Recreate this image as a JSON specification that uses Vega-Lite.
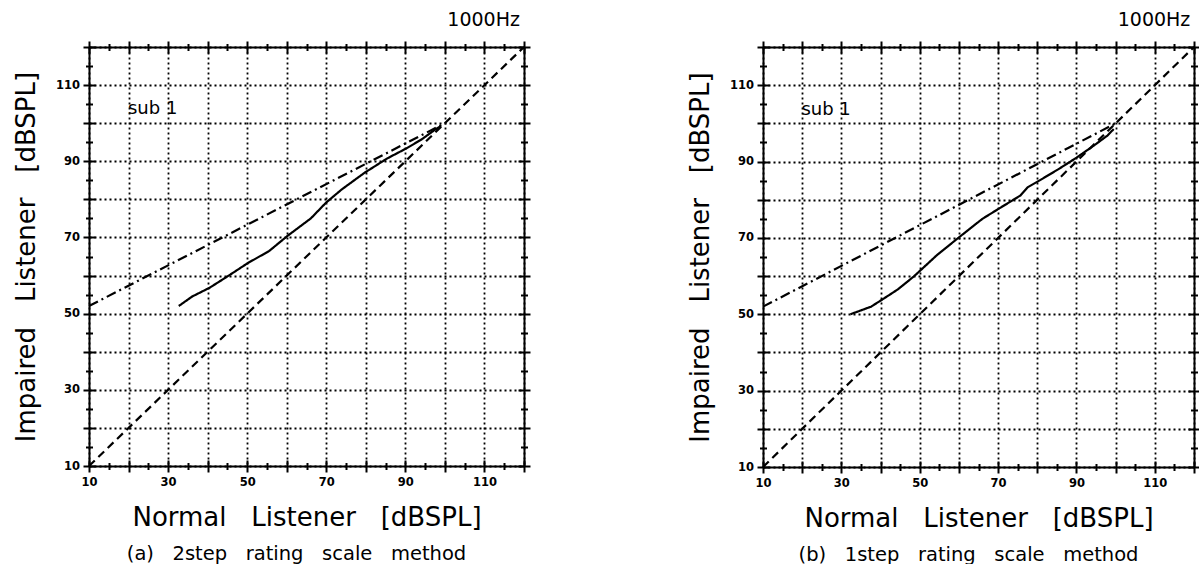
{
"$schema": "https://vega.github.io/schema/vega-lite/v6.json",
"padding": {"left": 13, "top": 11, "right": 0, "bottom": 0},
"spacing": 156,
"background": "white",
"config": {
  "view": {"stroke": null},
  "axis": {
    "domainColor": "black", "domainWidth": 2,
    "tickColor": "black", "tickWidth": 2,
    "labelFlush": false, "labelOverlap": false, "labelBound": false,
    "labelFont": "DejaVu Sans", "labelFontWeight": "bold", "labelFontSize": 11.5, "labelColor": "black",
    "gridColor": "black", "gridDash": [2, 3], "gridWidth": 1.8,
    "titleFont": "DejaVu Sans", "titleFontSize": 26, "titleFontWeight": "normal", "titleColor": "black"
  }
},
"datasets": {
  "a": [
    {"s": "dash", "x": 10, "y": 10}, {"s": "dash", "x": 120, "y": 120},
    {"s": "dashdot", "x": 10, "y": 52}, {"s": "dashdot", "x": 100, "y": 100},
    {"s": "solid", "x": 32.7, "y": 52}, {"s": "solid", "x": 36.1, "y": 54.5}, {"s": "solid", "x": 40.5, "y": 56.8},
    {"s": "solid", "x": 45.8, "y": 60.3}, {"s": "solid", "x": 50.2, "y": 63.3}, {"s": "solid", "x": 55.5, "y": 66.4},
    {"s": "solid", "x": 60.3, "y": 70.5}, {"s": "solid", "x": 66.1, "y": 75}, {"s": "solid", "x": 70, "y": 79.2},
    {"s": "solid", "x": 73.9, "y": 82.6}, {"s": "solid", "x": 79.7, "y": 87}, {"s": "solid", "x": 85.5, "y": 90.8},
    {"s": "solid", "x": 90.3, "y": 93.4}, {"s": "solid", "x": 94.2, "y": 95.8}, {"s": "solid", "x": 97.1, "y": 98},
    {"s": "solid", "x": 99, "y": 99.3}
  ],
  "b": [
    {"s": "dash", "x": 10, "y": 10}, {"s": "dash", "x": 120, "y": 120},
    {"s": "dashdot", "x": 10, "y": 52}, {"s": "dashdot", "x": 100, "y": 100},
    {"s": "solid", "x": 32.3, "y": 50}, {"s": "solid", "x": 37.6, "y": 52}, {"s": "solid", "x": 40.5, "y": 53.9},
    {"s": "solid", "x": 44.4, "y": 56.5}, {"s": "solid", "x": 48.6, "y": 60}, {"s": "solid", "x": 54.4, "y": 65.5},
    {"s": "solid", "x": 60.2, "y": 70.3}, {"s": "solid", "x": 66, "y": 75}, {"s": "solid", "x": 70.9, "y": 78.1},
    {"s": "solid", "x": 75.7, "y": 81.1}, {"s": "solid", "x": 77.6, "y": 83.3}, {"s": "solid", "x": 80.5, "y": 85},
    {"s": "solid", "x": 85.4, "y": 88}, {"s": "solid", "x": 90, "y": 91}, {"s": "solid", "x": 95, "y": 94.6},
    {"s": "solid", "x": 97.9, "y": 96.8}, {"s": "solid", "x": 99.5, "y": 98.5}
  ],
  "sub": [{"x": 26.1, "y": 103.6, "label": "sub 1"}],
  "hz": [{"x": 109.8, "y": 127, "label": "1000Hz"}]
},
"hconcat": [
{
  "width": 435, "height": 419,
  "title": {"text": "(a)\u00a0\u00a0\u00a02step\u00a0\u00a0\u00a0rating\u00a0\u00a0\u00a0scale\u00a0\u00a0\u00a0method", "orient": "bottom", "anchor": "middle", "font": "DejaVu Sans", "fontSize": 19.5, "fontWeight": "normal", "color": "black", "offset": 14, "dx": -10},
  "layer": [
    {"data": {"name": "a"}, "mark": {"type": "line", "color": "black", "strokeWidth": 2.2},
     "encoding": {
       "x": {"field": "x", "type": "quantitative", "scale": {"domain": [10, 120], "nice": false, "zero": false},
             "axis": {"orient": "bottom", "values": [10,15,20,25,30,35,40,45,50,55,60,65,70,75,80,85,90,95,100,105,110,115,120],
                      "labelExpr": "datum.value % 20 === 10 ? datum.label : ''",
                      "tickSize": {"condition": {"test": "datum.value % 10 === 0", "value": 6}, "value": 3.5},
                      "grid": true, "gridOpacity": {"condition": {"test": "datum.value % 10 === 0", "value": 1}, "value": 0},
                      "labelPadding": 4, "title": "Normal\u00a0\u00a0\u00a0Listener\u00a0\u00a0\u00a0[dBSPL]", "titlePadding": 17}},
       "y": {"field": "y", "type": "quantitative", "scale": {"domain": [10, 120], "nice": false, "zero": false},
             "axis": {"orient": "left", "values": [10,15,20,25,30,35,40,45,50,55,60,65,70,75,80,85,90,95,100,105,110,115,120],
                      "labelExpr": "datum.value % 20 === 10 ? datum.label : ''",
                      "tickSize": {"condition": {"test": "datum.value % 10 === 0", "value": 6}, "value": 3.5},
                      "grid": true, "gridOpacity": {"condition": {"test": "datum.value % 10 === 0", "value": 1}, "value": 0},
                      "labelPadding": 3.5, "title": "Impaired\u00a0\u00a0\u00a0Listener\u00a0\u00a0\u00a0[dBSPL]", "titlePadding": 16}},
       "strokeDash": {"field": "s", "type": "nominal", "scale": {"domain": ["dash", "dashdot", "solid"], "range": [[8, 5], [10, 4, 2, 4], [1, 0]]}, "legend": null}
     }},
    {"data": {"name": "a"}, "mark": {"type": "point", "opacity": 0},
     "encoding": {
       "x": {"field": "x", "type": "quantitative", "scale": {"domain": [10, 120], "nice": false, "zero": false},
             "axis": {"orient": "top", "values": [10,15,20,25,30,35,40,45,50,55,60,65,70,75,80,85,90,95,100,105,110,115,120], "labels": false, "grid": false, "title": null,
                      "tickSize": {"condition": {"test": "datum.value % 10 === 0", "value": 6}, "value": 3.5}}},
       "y": {"field": "y", "type": "quantitative", "scale": {"domain": [10, 120], "nice": false, "zero": false},
             "axis": {"orient": "right", "values": [10,15,20,25,30,35,40,45,50,55,60,65,70,75,80,85,90,95,100,105,110,115,120], "labels": false, "grid": false, "title": null,
                      "tickSize": {"condition": {"test": "datum.value % 10 === 0", "value": 6}, "value": 3.5}}}
     }},
    {"data": {"name": "a"}, "mark": {"type": "point", "opacity": 0},
     "encoding": {
       "x": {"field": "x", "type": "quantitative", "scale": {"domain": [10, 120], "nice": false, "zero": false},
             "axis": {"orient": "bottom", "values": [10,15,20,25,30,35,40,45,50,55,60,65,70,75,80,85,90,95,100,105,110,115,120], "labels": false, "grid": false, "title": null, "domain": false,
                      "tickSize": {"condition": {"test": "datum.value % 10 === 0", "value": -6}, "value": -3.5}}},
       "y": {"field": "y", "type": "quantitative", "scale": {"domain": [10, 120], "nice": false, "zero": false},
             "axis": {"orient": "left", "values": [10,15,20,25,30,35,40,45,50,55,60,65,70,75,80,85,90,95,100,105,110,115,120], "labels": false, "grid": false, "title": null, "domain": false,
                      "tickSize": {"condition": {"test": "datum.value % 10 === 0", "value": -6}, "value": -3.5}}}
     }},
    {"data": {"name": "a"}, "mark": {"type": "point", "opacity": 0},
     "encoding": {
       "x": {"field": "x", "type": "quantitative", "scale": {"domain": [10, 120], "nice": false, "zero": false},
             "axis": {"orient": "top", "values": [10,15,20,25,30,35,40,45,50,55,60,65,70,75,80,85,90,95,100,105,110,115,120], "labels": false, "grid": false, "title": null, "domain": false,
                      "tickSize": {"condition": {"test": "datum.value % 10 === 0", "value": -6}, "value": -3.5}}},
       "y": {"field": "y", "type": "quantitative", "scale": {"domain": [10, 120], "nice": false, "zero": false},
             "axis": {"orient": "right", "values": [10,15,20,25,30,35,40,45,50,55,60,65,70,75,80,85,90,95,100,105,110,115,120], "labels": false, "grid": false, "title": null, "domain": false,
                      "tickSize": {"condition": {"test": "datum.value % 10 === 0", "value": -6}, "value": -3.5}}}
     }},
    {"data": {"name": "sub"}, "mark": {"type": "text", "font": "DejaVu Sans", "fontSize": 18, "color": "black", "align": "center", "baseline": "middle"},
     "encoding": {
       "x": {"field": "x", "type": "quantitative", "scale": {"domain": [10, 120], "nice": false, "zero": false}, "axis": null},
       "y": {"field": "y", "type": "quantitative", "scale": {"domain": [10, 120], "nice": false, "zero": false}, "axis": null},
       "text": {"field": "label"}
     }},
    {"data": {"name": "hz"}, "mark": {"type": "text", "font": "DejaVu Sans", "fontSize": 19, "color": "black", "align": "center", "baseline": "middle"},
     "encoding": {
       "x": {"field": "x", "type": "quantitative", "scale": {"domain": [10, 120], "nice": false, "zero": false}, "axis": null},
       "y": {"field": "y", "type": "quantitative", "scale": {"domain": [10, 120], "nice": false, "zero": false}, "axis": null},
       "text": {"field": "label"}
     }}
  ],
  "resolve": {"axis": {"x": "independent", "y": "independent"}}
},
{
  "width": 431, "height": 420,
  "title": {"text": "(b)\u00a0\u00a0\u00a01step\u00a0\u00a0\u00a0rating\u00a0\u00a0\u00a0scale\u00a0\u00a0\u00a0method", "orient": "bottom", "anchor": "middle", "font": "DejaVu Sans", "fontSize": 19.5, "fontWeight": "normal", "color": "black", "offset": 14, "dx": -10},
  "layer": [
    {"data": {"name": "b"}, "mark": {"type": "line", "color": "black", "strokeWidth": 2.2},
     "encoding": {
       "x": {"field": "x", "type": "quantitative", "scale": {"domain": [10, 120], "nice": false, "zero": false},
             "axis": {"orient": "bottom", "values": [10,15,20,25,30,35,40,45,50,55,60,65,70,75,80,85,90,95,100,105,110,115,120],
                      "labelExpr": "datum.value % 20 === 10 ? datum.label : ''",
                      "tickSize": {"condition": {"test": "datum.value % 10 === 0", "value": 6}, "value": 3.5},
                      "grid": true, "gridOpacity": {"condition": {"test": "datum.value % 10 === 0", "value": 1}, "value": 0},
                      "labelPadding": 4, "title": "Normal\u00a0\u00a0\u00a0Listener\u00a0\u00a0\u00a0[dBSPL]", "titlePadding": 17}},
       "y": {"field": "y", "type": "quantitative", "scale": {"domain": [10, 120], "nice": false, "zero": false},
             "axis": {"orient": "left", "values": [10,15,20,25,30,35,40,45,50,55,60,65,70,75,80,85,90,95,100,105,110,115,120],
                      "labelExpr": "datum.value % 20 === 10 ? datum.label : ''",
                      "tickSize": {"condition": {"test": "datum.value % 10 === 0", "value": 6}, "value": 3.5},
                      "grid": true, "gridOpacity": {"condition": {"test": "datum.value % 10 === 0", "value": 1}, "value": 0},
                      "labelPadding": 3.5, "title": "Impaired\u00a0\u00a0\u00a0Listener\u00a0\u00a0\u00a0[dBSPL]", "titlePadding": 16}},
       "strokeDash": {"field": "s", "type": "nominal", "scale": {"domain": ["dash", "dashdot", "solid"], "range": [[8, 5], [10, 4, 2, 4], [1, 0]]}, "legend": null}
     }},
    {"data": {"name": "b"}, "mark": {"type": "point", "opacity": 0},
     "encoding": {
       "x": {"field": "x", "type": "quantitative", "scale": {"domain": [10, 120], "nice": false, "zero": false},
             "axis": {"orient": "top", "values": [10,15,20,25,30,35,40,45,50,55,60,65,70,75,80,85,90,95,100,105,110,115,120], "labels": false, "grid": false, "title": null,
                      "tickSize": {"condition": {"test": "datum.value % 10 === 0", "value": 6}, "value": 3.5}}},
       "y": {"field": "y", "type": "quantitative", "scale": {"domain": [10, 120], "nice": false, "zero": false},
             "axis": {"orient": "right", "values": [10,15,20,25,30,35,40,45,50,55,60,65,70,75,80,85,90,95,100,105,110,115,120], "labels": false, "grid": false, "title": null,
                      "tickSize": {"condition": {"test": "datum.value % 10 === 0", "value": 6}, "value": 3.5}}}
     }},
    {"data": {"name": "b"}, "mark": {"type": "point", "opacity": 0},
     "encoding": {
       "x": {"field": "x", "type": "quantitative", "scale": {"domain": [10, 120], "nice": false, "zero": false},
             "axis": {"orient": "bottom", "values": [10,15,20,25,30,35,40,45,50,55,60,65,70,75,80,85,90,95,100,105,110,115,120], "labels": false, "grid": false, "title": null, "domain": false,
                      "tickSize": {"condition": {"test": "datum.value % 10 === 0", "value": -6}, "value": -3.5}}},
       "y": {"field": "y", "type": "quantitative", "scale": {"domain": [10, 120], "nice": false, "zero": false},
             "axis": {"orient": "left", "values": [10,15,20,25,30,35,40,45,50,55,60,65,70,75,80,85,90,95,100,105,110,115,120], "labels": false, "grid": false, "title": null, "domain": false,
                      "tickSize": {"condition": {"test": "datum.value % 10 === 0", "value": -6}, "value": -3.5}}}
     }},
    {"data": {"name": "b"}, "mark": {"type": "point", "opacity": 0},
     "encoding": {
       "x": {"field": "x", "type": "quantitative", "scale": {"domain": [10, 120], "nice": false, "zero": false},
             "axis": {"orient": "top", "values": [10,15,20,25,30,35,40,45,50,55,60,65,70,75,80,85,90,95,100,105,110,115,120], "labels": false, "grid": false, "title": null, "domain": false,
                      "tickSize": {"condition": {"test": "datum.value % 10 === 0", "value": -6}, "value": -3.5}}},
       "y": {"field": "y", "type": "quantitative", "scale": {"domain": [10, 120], "nice": false, "zero": false},
             "axis": {"orient": "right", "values": [10,15,20,25,30,35,40,45,50,55,60,65,70,75,80,85,90,95,100,105,110,115,120], "labels": false, "grid": false, "title": null, "domain": false,
                      "tickSize": {"condition": {"test": "datum.value % 10 === 0", "value": -6}, "value": -3.5}}}
     }},
    {"data": {"name": "sub"}, "mark": {"type": "text", "font": "DejaVu Sans", "fontSize": 18, "color": "black", "align": "center", "baseline": "middle"},
     "encoding": {
       "x": {"field": "x", "type": "quantitative", "scale": {"domain": [10, 120], "nice": false, "zero": false}, "axis": null},
       "y": {"field": "y", "type": "quantitative", "scale": {"domain": [10, 120], "nice": false, "zero": false}, "axis": null},
       "text": {"field": "label"}
     }},
    {"data": {"name": "hz"}, "mark": {"type": "text", "font": "DejaVu Sans", "fontSize": 19, "color": "black", "align": "center", "baseline": "middle"},
     "encoding": {
       "x": {"field": "x", "type": "quantitative", "scale": {"domain": [10, 120], "nice": false, "zero": false}, "axis": null},
       "y": {"field": "y", "type": "quantitative", "scale": {"domain": [10, 120], "nice": false, "zero": false}, "axis": null},
       "text": {"field": "label"}
     }}
  ],
  "resolve": {"axis": {"x": "independent", "y": "independent"}}
}
]
}
